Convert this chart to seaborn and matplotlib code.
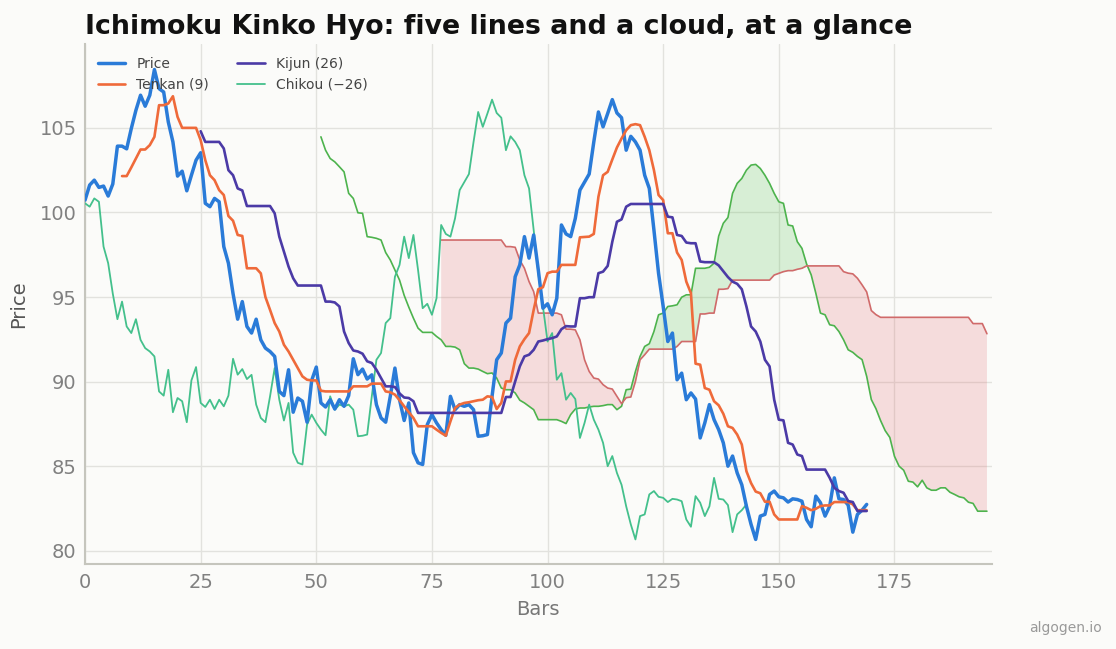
import numpy as np
import pandas as pd
import matplotlib.pyplot as plt
import seaborn as sns

# closing price, bars 0..169
price = [
    100.73, 101.62, 101.91, 101.48, 101.56, 100.97, 101.68, 103.92, 103.92, 103.76,
    104.96, 106.04, 106.93, 106.28, 106.93, 108.45, 107.32, 107.12, 105.35, 104.17,
    102.15, 102.44, 101.28, 102.2, 103.09, 103.53, 100.54, 100.34, 100.83, 100.63,
    97.98, 97.0, 95.2, 93.69, 94.73, 93.26, 92.87, 93.69, 92.47, 91.98,
    91.78, 91.49, 89.42, 89.17, 90.7, 88.19, 89.03, 88.84, 87.6, 90.07,
    90.86, 88.74, 88.5, 88.93, 88.38, 88.93, 88.54, 89.17, 91.35, 90.41,
    90.74, 90.15, 90.4, 88.64, 87.85, 87.6, 89.13, 90.8, 88.93, 87.7,
    88.74, 85.8, 85.2, 85.1, 87.46, 88.05, 87.56, 87.16, 86.83, 89.13,
    88.34, 88.64, 88.54, 88.64, 88.34, 86.77, 86.8, 86.87, 89.13, 91.29,
    91.69, 93.46, 93.75, 96.2, 96.9, 98.57, 97.3, 98.67, 96.6, 94.34,
    94.6, 93.95, 94.93, 99.26, 98.73, 98.57, 99.65, 101.32, 101.8, 102.27,
    104.17, 105.94, 105.06, 105.85, 106.67, 105.88, 105.6, 103.68, 104.5, 104.17,
    103.68, 102.2, 101.42, 98.96, 96.4, 94.44, 92.37, 92.87, 90.11, 90.5,
    88.93, 89.33, 88.97, 86.67, 87.56, 88.64, 87.75, 87.16, 86.38, 85.0,
    85.6, 84.6, 83.9, 82.63, 81.56, 80.67, 82.05, 82.15, 83.33, 83.53,
    83.19, 83.13, 82.88, 83.07, 83.03, 82.93, 81.85, 81.42, 83.23, 82.84,
    82.05, 82.63, 84.31, 83.07, 83.03, 82.7, 81.1, 82.15, 82.4, 82.74,
]

# Tenkan (9), bars 8..169
tenkan_start = 8
tenkan = [
    102.15, 102.15, 102.66, 103.19, 103.72, 103.72, 103.98, 104.47, 106.34, 106.34,
    106.44, 106.87, 105.65, 105.0, 105.0, 105.0, 105.0, 104.27, 103.09, 102.2,
    101.91, 101.32, 101.03, 99.79, 99.51, 98.67, 98.61, 96.7, 96.7, 96.7,
    96.4, 95.0, 94.24, 93.46, 92.96, 92.18, 91.78, 91.29, 90.8, 90.31,
    90.11, 90.07, 90.07, 89.46, 89.42, 89.42, 89.42, 89.42, 89.42, 89.42,
    89.72, 89.72, 89.72, 89.72, 89.88, 89.88, 89.88, 89.42, 89.37, 89.23,
    88.9, 88.54, 88.2, 87.85, 87.36, 87.36, 87.36, 87.36, 87.16, 86.97,
    86.8, 87.65, 88.44, 88.64, 88.74, 88.78, 88.84, 88.9, 88.93, 89.13,
    89.09, 88.38, 88.74, 90.01, 90.01, 91.29, 92.08, 92.51, 92.87, 94.24,
    95.46, 95.58, 96.41, 96.5, 96.5, 96.9, 96.9, 96.9, 96.9, 98.53,
    98.55, 98.57, 98.73, 100.93, 102.2, 102.4, 103.13, 103.84, 104.37, 104.86,
    105.16, 105.22, 105.16, 104.47, 103.68, 102.5, 101.03, 100.73, 98.77, 98.77,
    97.63, 97.19, 95.91, 95.23, 91.06, 91.0, 89.62, 89.52, 88.84, 88.6,
    88.1, 87.36, 87.26, 86.87, 86.28, 84.7, 84.0, 83.5, 83.4, 82.9,
    82.9, 82.15, 81.85, 81.85, 81.85, 81.85, 81.85, 82.64, 82.54, 82.4,
    82.48, 82.64, 82.68, 82.68, 82.88, 82.88, 82.88, 82.88, 82.74, 82.4,
    82.4, 82.4,
]

# Kijun (26), bars 25..169
kijun_start = 25
kijun = [
    104.8, 104.17, 104.17, 104.17, 104.17, 103.78, 102.5, 102.2, 101.42, 101.3,
    100.38, 100.38, 100.38, 100.38, 100.38, 100.38, 99.95, 98.57, 97.68, 96.8,
    96.11, 95.68, 95.68, 95.68, 95.68, 95.68, 95.68, 94.73, 94.73, 94.68,
    94.44, 92.96, 92.28, 91.84, 91.78, 91.65, 91.2, 91.1, 90.7, 90.21,
    89.72, 89.72, 89.68, 89.3, 89.06, 89.03, 88.84, 88.15, 88.15, 88.15,
    88.15, 88.15, 88.15, 88.15, 88.15, 88.15, 88.15, 88.15, 88.15, 88.15,
    88.15, 88.15, 88.15, 88.15, 88.15, 88.15, 89.09, 89.09, 90.01, 90.9,
    91.49, 91.59, 91.88, 92.37, 92.43, 92.51, 92.57, 92.67, 93.1, 93.28,
    93.26, 93.26, 94.93, 94.93, 94.99, 94.99, 96.41, 96.5, 96.84, 98.27,
    99.45, 99.59, 100.34, 100.5, 100.5, 100.5, 100.5, 100.5, 100.5, 100.5,
    100.5, 99.75, 99.71, 98.67, 98.61, 98.22, 98.18, 98.18, 97.1, 97.06,
    97.06, 97.06, 96.87, 96.53, 96.18, 95.91, 95.78, 95.46, 94.44, 93.26,
    92.96, 92.37, 91.29, 90.9, 88.93, 87.75, 87.71, 86.38, 86.28, 85.69,
    85.6, 84.8, 84.8, 84.8, 84.8, 84.8, 84.31, 83.72, 83.53, 83.43,
    82.94, 82.88, 82.35, 82.35, 82.35,
]

# Senkou Span A, bars 51..195
span_a_start = 51
span_a = [
    104.47, 103.68, 103.19, 102.99, 102.7, 102.4, 101.13, 100.83, 99.98, 99.95,
    98.57, 98.53, 98.47, 98.37, 97.63, 97.19, 96.6, 96.0, 95.1, 94.4,
    93.75, 93.16, 92.91, 92.91, 92.91, 92.67, 92.47, 92.08, 92.08, 92.04,
    91.88, 91.06, 90.8, 90.8, 90.74, 90.6, 90.47, 90.51, 90.21, 89.62,
    89.52, 89.52, 89.33, 88.9, 88.74, 88.54, 88.34, 87.75, 87.75, 87.75,
    87.75, 87.75, 87.65, 87.52, 88.05, 88.38, 88.44, 88.44, 88.5, 88.54,
    88.54, 88.58, 88.64, 88.64, 88.34, 88.54, 89.52, 89.56, 90.6, 91.49,
    92.08, 92.24, 92.96, 93.95, 94.05, 94.44, 94.48, 94.54, 94.99, 95.13,
    95.13, 96.7, 96.7, 96.7, 96.76, 97.0, 98.6, 99.36, 99.7, 101.13,
    101.72, 102.01, 102.5, 102.8, 102.84, 102.6, 102.2, 101.72, 101.13, 100.63,
    100.54, 99.26, 99.2, 98.27, 97.88, 96.96, 96.31, 95.23, 94.05, 93.95,
    93.36, 93.3, 92.96, 92.47, 91.88, 91.73, 91.49, 91.3, 90.31, 88.94,
    88.4, 87.7, 87.1, 86.7, 85.59, 85.0, 84.76, 84.11, 84.06, 83.78,
    84.17, 83.72, 83.58, 83.58, 83.72, 83.72, 83.46, 83.33, 83.19, 83.13,
    82.87, 82.8, 82.34, 82.34, 82.34,
]

# Senkou Span B, bars 77..195
span_b_start = 77
span_b = [
    98.37, 98.37, 98.37, 98.37, 98.37, 98.37, 98.37, 98.37, 98.37, 98.37,
    98.37, 98.37, 98.37, 98.37, 97.98, 97.98, 97.94, 97.19, 96.7, 95.91,
    95.32, 94.05, 94.05, 94.05, 94.05, 94.05, 93.95, 93.1, 93.1, 93.06,
    92.47, 91.29, 90.6, 90.21, 90.15, 89.82, 89.62, 89.56, 89.13, 88.7,
    89.05, 89.09, 90.01, 91.29, 91.59, 91.92, 91.92, 91.92, 91.92, 91.92,
    91.92, 92.08, 92.37, 92.37, 92.37, 92.37, 94.0, 94.0, 94.05, 94.05,
    95.46, 95.46, 95.5, 96.0, 96.0, 96.0, 96.0, 96.0, 96.0, 96.0,
    96.0, 96.0, 96.3, 96.4, 96.5, 96.56, 96.56, 96.64, 96.7, 96.84,
    96.84, 96.84, 96.84, 96.84, 96.84, 96.84, 96.84, 96.5, 96.41, 96.37,
    96.11, 95.72, 95.3, 94.2, 93.96, 93.8, 93.8, 93.8, 93.8, 93.8,
    93.8, 93.8, 93.8, 93.8, 93.8, 93.8, 93.8, 93.8, 93.8, 93.8,
    93.8, 93.8, 93.8, 93.8, 93.8, 93.43, 93.43, 93.43, 92.83,
]

shift = 26

bg = "#fbfbf9"
c_price = "#2a7bd8"
c_tenkan = "#ef6a3a"
c_kijun = "#4b3aa6"
c_chikou = "#44c08c"
c_span_a = "#4db34d"
c_span_b = "#d06a6a"

sns.set_theme(style="whitegrid")
plt.rcParams['font.family'] = ['DejaVu Sans']

bars = np.arange(len(price))
x_tenkan = np.arange(tenkan_start, tenkan_start + len(tenkan))
x_kijun = np.arange(kijun_start, kijun_start + len(kijun))
x_a = np.arange(span_a_start, span_a_start + len(span_a))
x_b = np.arange(span_b_start, span_b_start + len(span_b))
x_chikou = bars[:-shift]
chikou = price[shift:]

fig = plt.figure(figsize=(11.16, 6.49), dpi=100, facecolor=bg)
ax = fig.add_axes([0.0762, 0.1305, 0.8123, 0.8015])
ax.set_facecolor(bg)

# cloud
a_cloud = np.array(span_a[span_b_start - span_a_start:])
b_cloud = np.array(span_b)
ax.fill_between(x_b, a_cloud, b_cloud, where=a_cloud >= b_cloud, interpolate=True,
                color="#47ba45", alpha=0.2, lw=0, zorder=1)
ax.fill_between(x_b, a_cloud, b_cloud, where=a_cloud < b_cloud, interpolate=True,
                color="#dd6068", alpha=0.2, lw=0, zorder=1)

sns.lineplot(x=x_a, y=span_a, ax=ax, color=c_span_a, lw=1.2, zorder=2)
sns.lineplot(x=x_b, y=span_b, ax=ax, color=c_span_b, lw=1.2, zorder=2)

sns.lineplot(x=bars, y=price, ax=ax, color=c_price, lw=2.5, label="Price", zorder=4)
sns.lineplot(x=x_tenkan, y=tenkan, ax=ax, color=c_tenkan, lw=1.9, label="Tenkan (9)", zorder=4)
sns.lineplot(x=x_kijun, y=kijun, ax=ax, color=c_kijun, lw=1.9, label="Kijun (26)", zorder=4)
sns.lineplot(x=x_chikou, y=chikou, ax=ax, color=c_chikou, lw=1.3, label="Chikou (\u221226)", zorder=3)

ax.set_xlim(0, 196)
ax.set_ylim(79.2, 109.95)
ax.set_xticks(range(0, 176, 25))
ax.set_yticks(range(80, 106, 5))

ax.grid(True, color="#e2e2de", lw=1)
for side in ["top", "right"]:
    ax.spines[side].set_visible(False)
for side in ["left", "bottom"]:
    ax.spines[side].set_color("#c5c5bd")
    ax.spines[side].set_linewidth(1.5)
ax.tick_params(axis="both", length=0, labelsize=14, labelcolor="#808080", pad=6)

ax.set_xlabel("Bars", fontsize=14, color="#777777", labelpad=6)
ax.set_ylabel("Price", fontsize=14, color="#555555", labelpad=8)
ax.set_title("Ichimoku Kinko Hyo: five lines and a cloud, at a glance",
             loc="left", fontsize=19.3, fontweight="bold", color="#111111", pad=7)

leg = ax.legend(loc="upper left", ncol=2, frameon=False, fontsize=10)
for t in leg.get_texts():
    t.set_color("#444444")

fig.text(0.9875, 0.032, "algogen.io", ha="right", va="center", fontsize=10, color="#999999")

fig.savefig("out.png", dpi=100, facecolor=bg)
